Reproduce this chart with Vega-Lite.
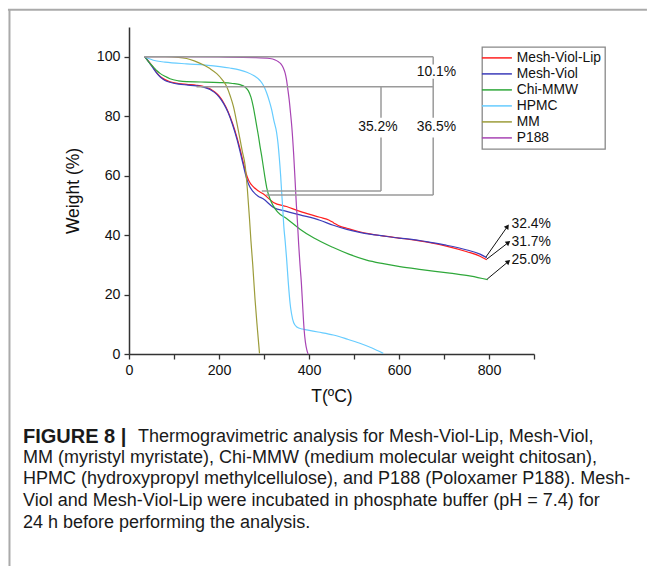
{
  "$schema": "https://vega.github.io/schema/vega-lite/v6.json",
  "width": 405,
  "height": 327,
  "autosize": {"type": "none"},
  "padding": {"left": 129, "top": 27, "right": 113, "bottom": 212},
  "background": "white",
  "config": {
    "view": {"stroke": null},
    "font": "Liberation Sans",
    "axis": {
      "labelFont": "Liberation Sans", "labelFontSize": 14.2, "labelColor": "#111",
      "titleFont": "Liberation Sans", "titleFontSize": 17.5, "titleFontWeight": "normal", "titleColor": "#111",
      "domainColor": "#333", "domainWidth": 1.5, "tickColor": "#333", "tickWidth": 1.3, "tickSize": 5,
      "grid": false, "labelPadding": 4
    },
    "legend": {
      "strokeColor": "#888", "strokeWidth": 1.3, "fillColor": "white", "padding": 4,
      "labelFont": "Liberation Sans", "labelFontSize": 13.8, "labelColor": "#111",
      "symbolType": "M-3,0H3", "symbolSize": 100, "symbolStrokeWidth": 1.5,
      "symbolOffset": 4, "labelOffset": 13, "rowPadding": 1
    }
  },
  "datasets": {
    "frame": [
      {"T1": -269, "W1": 115.8, "T2": 1151, "W2": 115.8},
      {"T1": -265.6, "W1": 115.8, "T2": -265.6, "W2": -71.5}
    ],
    "ann": [
      {"T1": 34, "W1": 100, "T2": 676, "W2": 100},
      {"T1": 676, "W1": 100, "T2": 676, "W2": 97.4},
      {"T1": 676, "W1": 92.6, "T2": 676, "W2": 79.5},
      {"T1": 676, "W1": 72.8, "T2": 676, "W2": 53.5},
      {"T1": 150, "W1": 89.9, "T2": 676, "W2": 89.9},
      {"T1": 560, "W1": 89.9, "T2": 560, "W2": 79.5},
      {"T1": 560, "W1": 72.8, "T2": 560, "W2": 54.8},
      {"T1": 295, "W1": 54.8, "T2": 560, "W2": 54.8},
      {"T1": 305, "W1": 53.5, "T2": 676, "W2": 53.5}
    ],
    "annText": [
      {"T": 683, "W": 95.0, "text": "10.1%"},
      {"T": 553, "W": 76.3, "text": "35.2%"},
      {"T": 683, "W": 76.3, "text": "36.5%"}
    ],
    "arrows": [
      {"T1": 793, "W1": 32.6, "T2": 841, "W2": 42.9, "label": "32.4%"},
      {"T1": 795, "W1": 31.9, "T2": 843, "W2": 37.5, "label": "31.7%"},
      {"T1": 796, "W1": 25.2, "T2": 843, "W2": 31.1, "label": "25.0%"}
    ],
    "arrowText": [
      {"T": 850, "W": 43.8, "text": "32.4%"},
      {"T": 850, "W": 37.8, "text": "31.7%"},
      {"T": 850, "W": 31.6, "text": "25.0%"}
    ],
    "captionBold": [
      {"T": -235.6, "W": -27.9, "text": "FIGURE 8 |"}
    ],
    "caption": [
      {"T": 20, "W": -27.9, "text": "Thermogravimetric analysis for Mesh-Viol-Lip, Mesh-Viol,"},
      {"T": -235.6, "W": -35.1, "text": "MM (myristyl myristate), Chi-MMW (medium molecular weight chitosan),"},
      {"T": -235.6, "W": -42.2, "text": "HPMC (hydroxypropyl methylcellulose), and P188 (Poloxamer P188). Mesh-"},
      {"T": -235.6, "W": -49.5, "text": "Viol and Mesh-Viol-Lip were incubated in phosphate buffer (pH = 7.4) for"},
      {"T": -235.6, "W": -56.7, "text": "24 h before performing the analysis."}
    ],
    "curves": [
      {"series": "Mesh-Viol-Lip", "T": 35, "W": 100}, {"series": "Mesh-Viol-Lip", "T": 45, "W": 98.2}, {"series": "Mesh-Viol-Lip", "T": 54, "W": 96.3}, {"series": "Mesh-Viol-Lip", "T": 62, "W": 94.6}, {"series": "Mesh-Viol-Lip", "T": 70, "W": 93.3}, {"series": "Mesh-Viol-Lip", "T": 80, "W": 92.3}, {"series": "Mesh-Viol-Lip", "T": 91, "W": 91.6}, {"series": "Mesh-Viol-Lip", "T": 110, "W": 91.0}, {"series": "Mesh-Viol-Lip", "T": 128, "W": 90.7}, {"series": "Mesh-Viol-Lip", "T": 150, "W": 90.4}, {"series": "Mesh-Viol-Lip", "T": 165, "W": 90.0}, {"series": "Mesh-Viol-Lip", "T": 180, "W": 89.2}, {"series": "Mesh-Viol-Lip", "T": 190, "W": 88.2}, {"series": "Mesh-Viol-Lip", "T": 200, "W": 86.8}, {"series": "Mesh-Viol-Lip", "T": 210, "W": 84.6}, {"series": "Mesh-Viol-Lip", "T": 220, "W": 81.6}, {"series": "Mesh-Viol-Lip", "T": 230, "W": 77.6}, {"series": "Mesh-Viol-Lip", "T": 240, "W": 72.8}, {"series": "Mesh-Viol-Lip", "T": 247, "W": 68.8}, {"series": "Mesh-Viol-Lip", "T": 254, "W": 64.4}, {"series": "Mesh-Viol-Lip", "T": 260, "W": 60.8}, {"series": "Mesh-Viol-Lip", "T": 266, "W": 58.4}, {"series": "Mesh-Viol-Lip", "T": 276, "W": 56.3}, {"series": "Mesh-Viol-Lip", "T": 287, "W": 54.9}, {"series": "Mesh-Viol-Lip", "T": 298, "W": 53.9}, {"series": "Mesh-Viol-Lip", "T": 321, "W": 51.0}, {"series": "Mesh-Viol-Lip", "T": 350, "W": 49.6}, {"series": "Mesh-Viol-Lip", "T": 380, "W": 48.0}, {"series": "Mesh-Viol-Lip", "T": 424, "W": 46.0}, {"series": "Mesh-Viol-Lip", "T": 445, "W": 45.0}, {"series": "Mesh-Viol-Lip", "T": 455, "W": 44.1}, {"series": "Mesh-Viol-Lip", "T": 468, "W": 43.0}, {"series": "Mesh-Viol-Lip", "T": 484, "W": 42.3}, {"series": "Mesh-Viol-Lip", "T": 510, "W": 41.2}, {"series": "Mesh-Viol-Lip", "T": 535, "W": 40.4}, {"series": "Mesh-Viol-Lip", "T": 560, "W": 39.8}, {"series": "Mesh-Viol-Lip", "T": 600, "W": 39.0}, {"series": "Mesh-Viol-Lip", "T": 632, "W": 38.4}, {"series": "Mesh-Viol-Lip", "T": 660, "W": 37.7}, {"series": "Mesh-Viol-Lip", "T": 705, "W": 36.3}, {"series": "Mesh-Viol-Lip", "T": 751, "W": 34.4}, {"series": "Mesh-Viol-Lip", "T": 780, "W": 32.9}, {"series": "Mesh-Viol-Lip", "T": 795, "W": 31.7},

      {"series": "Mesh-Viol", "T": 35, "W": 100}, {"series": "Mesh-Viol", "T": 45, "W": 98.0}, {"series": "Mesh-Viol", "T": 54, "W": 96.1}, {"series": "Mesh-Viol", "T": 62, "W": 94.4}, {"series": "Mesh-Viol", "T": 70, "W": 93.1}, {"series": "Mesh-Viol", "T": 80, "W": 92.0}, {"series": "Mesh-Viol", "T": 91, "W": 91.4}, {"series": "Mesh-Viol", "T": 110, "W": 90.8}, {"series": "Mesh-Viol", "T": 128, "W": 90.5}, {"series": "Mesh-Viol", "T": 150, "W": 90.2}, {"series": "Mesh-Viol", "T": 165, "W": 89.8}, {"series": "Mesh-Viol", "T": 180, "W": 89.0}, {"series": "Mesh-Viol", "T": 190, "W": 88.0}, {"series": "Mesh-Viol", "T": 200, "W": 86.5}, {"series": "Mesh-Viol", "T": 210, "W": 84.3}, {"series": "Mesh-Viol", "T": 220, "W": 81.3}, {"series": "Mesh-Viol", "T": 230, "W": 77.2}, {"series": "Mesh-Viol", "T": 240, "W": 72.2}, {"series": "Mesh-Viol", "T": 247, "W": 68.0}, {"series": "Mesh-Viol", "T": 254, "W": 63.5}, {"series": "Mesh-Viol", "T": 260, "W": 59.8}, {"series": "Mesh-Viol", "T": 266, "W": 57.0}, {"series": "Mesh-Viol", "T": 276, "W": 54.6}, {"series": "Mesh-Viol", "T": 287, "W": 53.1}, {"series": "Mesh-Viol", "T": 298, "W": 52.2}, {"series": "Mesh-Viol", "T": 321, "W": 49.3}, {"series": "Mesh-Viol", "T": 350, "W": 48.0}, {"series": "Mesh-Viol", "T": 380, "W": 46.8}, {"series": "Mesh-Viol", "T": 424, "W": 45.0}, {"series": "Mesh-Viol", "T": 454, "W": 43.3}, {"series": "Mesh-Viol", "T": 484, "W": 41.9}, {"series": "Mesh-Viol", "T": 510, "W": 41.0}, {"series": "Mesh-Viol", "T": 535, "W": 40.3}, {"series": "Mesh-Viol", "T": 560, "W": 39.8}, {"series": "Mesh-Viol", "T": 600, "W": 39.0}, {"series": "Mesh-Viol", "T": 632, "W": 38.5}, {"series": "Mesh-Viol", "T": 660, "W": 37.8}, {"series": "Mesh-Viol", "T": 705, "W": 36.6}, {"series": "Mesh-Viol", "T": 751, "W": 35.0}, {"series": "Mesh-Viol", "T": 780, "W": 33.6}, {"series": "Mesh-Viol", "T": 795, "W": 32.4},

      {"series": "Chi-MMW", "T": 35, "W": 100}, {"series": "Chi-MMW", "T": 45, "W": 98.0}, {"series": "Chi-MMW", "T": 54, "W": 96.6}, {"series": "Chi-MMW", "T": 62, "W": 95.3}, {"series": "Chi-MMW", "T": 69, "W": 94.4}, {"series": "Chi-MMW", "T": 80, "W": 93.4}, {"series": "Chi-MMW", "T": 91, "W": 92.6}, {"series": "Chi-MMW", "T": 110, "W": 91.9}, {"series": "Chi-MMW", "T": 128, "W": 91.6}, {"series": "Chi-MMW", "T": 160, "W": 91.5}, {"series": "Chi-MMW", "T": 202, "W": 91.3}, {"series": "Chi-MMW", "T": 230, "W": 91.0}, {"series": "Chi-MMW", "T": 247, "W": 90.6}, {"series": "Chi-MMW", "T": 258, "W": 89.8}, {"series": "Chi-MMW", "T": 265, "W": 88.6}, {"series": "Chi-MMW", "T": 271, "W": 86.4}, {"series": "Chi-MMW", "T": 276, "W": 83.3}, {"series": "Chi-MMW", "T": 280, "W": 80.0}, {"series": "Chi-MMW", "T": 284, "W": 76.5}, {"series": "Chi-MMW", "T": 288, "W": 73.0}, {"series": "Chi-MMW", "T": 291, "W": 70.0}, {"series": "Chi-MMW", "T": 295, "W": 66.5}, {"series": "Chi-MMW", "T": 298, "W": 63.5}, {"series": "Chi-MMW", "T": 302, "W": 59.5}, {"series": "Chi-MMW", "T": 306, "W": 56.0}, {"series": "Chi-MMW", "T": 313, "W": 52.3}, {"series": "Chi-MMW", "T": 320, "W": 50.0}, {"series": "Chi-MMW", "T": 330, "W": 47.8}, {"series": "Chi-MMW", "T": 350, "W": 45.6}, {"series": "Chi-MMW", "T": 380, "W": 42.0}, {"series": "Chi-MMW", "T": 411, "W": 39.0}, {"series": "Chi-MMW", "T": 454, "W": 35.8}, {"series": "Chi-MMW", "T": 490, "W": 33.5}, {"series": "Chi-MMW", "T": 528, "W": 31.6}, {"series": "Chi-MMW", "T": 565, "W": 30.4}, {"series": "Chi-MMW", "T": 602, "W": 29.4}, {"series": "Chi-MMW", "T": 650, "W": 28.4}, {"series": "Chi-MMW", "T": 713, "W": 27.2}, {"series": "Chi-MMW", "T": 760, "W": 26.2}, {"series": "Chi-MMW", "T": 797, "W": 25.0},

      {"series": "HPMC", "T": 35, "W": 100}, {"series": "HPMC", "T": 45, "W": 99.3}, {"series": "HPMC", "T": 54, "W": 98.8}, {"series": "HPMC", "T": 80, "W": 98.2}, {"series": "HPMC", "T": 128, "W": 97.6}, {"series": "HPMC", "T": 170, "W": 97.2}, {"series": "HPMC", "T": 202, "W": 96.7}, {"series": "HPMC", "T": 224, "W": 96.2}, {"series": "HPMC", "T": 245, "W": 95.6}, {"series": "HPMC", "T": 262, "W": 94.8}, {"series": "HPMC", "T": 278, "W": 93.6}, {"series": "HPMC", "T": 291, "W": 92.0}, {"series": "HPMC", "T": 300, "W": 90.0}, {"series": "HPMC", "T": 306, "W": 87.8}, {"series": "HPMC", "T": 312, "W": 85.0}, {"series": "HPMC", "T": 317, "W": 82.2}, {"series": "HPMC", "T": 322, "W": 78.5}, {"series": "HPMC", "T": 328, "W": 74.5}, {"series": "HPMC", "T": 331, "W": 71.0}, {"series": "HPMC", "T": 334, "W": 66.0}, {"series": "HPMC", "T": 337, "W": 60.0}, {"series": "HPMC", "T": 339, "W": 55.0}, {"series": "HPMC", "T": 342, "W": 48.0}, {"series": "HPMC", "T": 344, "W": 43.0}, {"series": "HPMC", "T": 347, "W": 38.0}, {"series": "HPMC", "T": 350, "W": 32.5}, {"series": "HPMC", "T": 354, "W": 24.0}, {"series": "HPMC", "T": 358, "W": 17.0}, {"series": "HPMC", "T": 361, "W": 13.7}, {"series": "HPMC", "T": 366, "W": 10.5}, {"series": "HPMC", "T": 373, "W": 9.1}, {"series": "HPMC", "T": 385, "W": 8.4}, {"series": "HPMC", "T": 395, "W": 8.1}, {"series": "HPMC", "T": 420, "W": 7.4}, {"series": "HPMC", "T": 454, "W": 6.4}, {"series": "HPMC", "T": 485, "W": 5.0}, {"series": "HPMC", "T": 513, "W": 3.6}, {"series": "HPMC", "T": 540, "W": 2.0}, {"series": "HPMC", "T": 565, "W": 0.2},

      {"series": "MM", "T": 35, "W": 100}, {"series": "MM", "T": 80, "W": 100}, {"series": "MM", "T": 110, "W": 99.8}, {"series": "MM", "T": 128, "W": 99.4}, {"series": "MM", "T": 145, "W": 98.6}, {"series": "MM", "T": 165, "W": 97.3}, {"series": "MM", "T": 180, "W": 96.0}, {"series": "MM", "T": 195, "W": 94.3}, {"series": "MM", "T": 207, "W": 92.3}, {"series": "MM", "T": 217, "W": 90.0}, {"series": "MM", "T": 225, "W": 86.8}, {"series": "MM", "T": 232, "W": 83.3}, {"series": "MM", "T": 240, "W": 77.5}, {"series": "MM", "T": 247, "W": 72.0}, {"series": "MM", "T": 252, "W": 68.0}, {"series": "MM", "T": 258, "W": 63.5}, {"series": "MM", "T": 263, "W": 55.5}, {"series": "MM", "T": 268, "W": 45.0}, {"series": "MM", "T": 271, "W": 38.0}, {"series": "MM", "T": 275, "W": 30.0}, {"series": "MM", "T": 280, "W": 18.5}, {"series": "MM", "T": 285, "W": 9.0}, {"series": "MM", "T": 290, "W": 0.2},

      {"series": "P188", "T": 35, "W": 100}, {"series": "P188", "T": 100, "W": 100}, {"series": "P188", "T": 200, "W": 99.9}, {"series": "P188", "T": 280, "W": 99.7}, {"series": "P188", "T": 313, "W": 99.4}, {"series": "P188", "T": 325, "W": 98.9}, {"series": "P188", "T": 332, "W": 98.3}, {"series": "P188", "T": 338, "W": 97.5}, {"series": "P188", "T": 343, "W": 96.2}, {"series": "P188", "T": 347, "W": 94.5}, {"series": "P188", "T": 350, "W": 92.3}, {"series": "P188", "T": 353, "W": 89.0}, {"series": "P188", "T": 356, "W": 85.5}, {"series": "P188", "T": 359, "W": 81.0}, {"series": "P188", "T": 362, "W": 76.0}, {"series": "P188", "T": 366, "W": 67.0}, {"series": "P188", "T": 369, "W": 58.6}, {"series": "P188", "T": 372, "W": 50.0}, {"series": "P188", "T": 374.5, "W": 44.0}, {"series": "P188", "T": 377, "W": 37.0}, {"series": "P188", "T": 380, "W": 30.0}, {"series": "P188", "T": 383, "W": 24.0}, {"series": "P188", "T": 386, "W": 16.0}, {"series": "P188", "T": 389, "W": 8.5}, {"series": "P188", "T": 392, "W": 4.0}, {"series": "P188", "T": 395, "W": 1.5}, {"series": "P188", "T": 398, "W": 0}
    ]
  },
  "layer": [
    {
      "data": {"name": "curves"},
      "mark": {"type": "line", "strokeWidth": 1.2, "interpolate": "monotone"},
      "encoding": {
        "x": {
          "field": "T", "type": "quantitative",
          "scale": {"domain": [0, 900], "nice": false, "zero": false},
          "axis": {"title": "T(ºC)", "values": [0, 100, 200, 300, 400, 500, 600, 700, 800, 900], "labelExpr": "datum.value % 200 == 0 && datum.value <= 800 ? datum.label : ''", "titlePadding": 10, "labelFlush": false}
        },
        "y": {
          "field": "W", "type": "quantitative",
          "scale": {"domain": [0, 110], "nice": false, "zero": false},
          "axis": {"title": "Weight (%)", "values": [0, 10, 20, 30, 40, 50, 60, 70, 80, 90, 100], "labelExpr": "datum.value % 20 == 0 ? datum.label : ''", "titlePadding": 14, "labelFlush": false}
        },
        "color": {
          "field": "series", "type": "nominal",
          "scale": {
            "domain": ["Mesh-Viol-Lip", "Mesh-Viol", "Chi-MMW", "HPMC", "MM", "P188"],
            "range": ["#ff1f1f", "#3c3cba", "#2fa83a", "#66ccff", "#9c9c3a", "#a844b4"]
          },
          "legend": {"title": null, "orient": "none", "legendX": 353, "legendY": 20}
        }
      }
    },
    {
      "data": {"name": "frame"},
      "mark": {"type": "rule", "color": "#aaaaaa", "strokeWidth": 2},
      "encoding": {
        "x": {"field": "T1", "type": "quantitative"},
        "x2": {"field": "T2"},
        "y": {"field": "W1", "type": "quantitative"},
        "y2": {"field": "W2"}
      }
    },
    {
      "data": {"name": "ann"},
      "mark": {"type": "rule", "color": "#9a9a9a", "strokeWidth": 1.5},
      "encoding": {
        "x": {"field": "T1", "type": "quantitative"},
        "x2": {"field": "T2"},
        "y": {"field": "W1", "type": "quantitative"},
        "y2": {"field": "W2"}
      }
    },
    {
      "data": {"name": "annText"},
      "mark": {"type": "text", "fontSize": 13.9, "color": "#111", "align": "center", "baseline": "middle"},
      "encoding": {
        "x": {"field": "T", "type": "quantitative"},
        "y": {"field": "W", "type": "quantitative"},
        "text": {"field": "text"}
      }
    },
    {
      "data": {"name": "arrows"},
      "mark": {"type": "rule", "color": "#111", "strokeWidth": 1},
      "encoding": {
        "x": {"field": "T1", "type": "quantitative"},
        "x2": {"field": "T2"},
        "y": {"field": "W1", "type": "quantitative"},
        "y2": {"field": "W2"}
      }
    },
    {
      "data": {"name": "arrows"},
      "transform": [{"filter": "datum.label == '32.4%'"}],
      "mark": {"type": "point", "shape": "triangle-up", "filled": true, "color": "#111", "size": 30, "angle": 35, "opacity": 1},
      "encoding": {
        "x": {"field": "T2", "type": "quantitative"},
        "y": {"field": "W2", "type": "quantitative"}
      }
    },
    {
      "data": {"name": "arrows"},
      "transform": [{"filter": "datum.label == '31.7%'"}],
      "mark": {"type": "point", "shape": "triangle-up", "filled": true, "color": "#111", "size": 30, "angle": 52, "opacity": 1},
      "encoding": {
        "x": {"field": "T2", "type": "quantitative"},
        "y": {"field": "W2", "type": "quantitative"}
      }
    },
    {
      "data": {"name": "arrows"},
      "transform": [{"filter": "datum.label == '25.0%'"}],
      "mark": {"type": "point", "shape": "triangle-up", "filled": true, "color": "#111", "size": 30, "angle": 50, "opacity": 1},
      "encoding": {
        "x": {"field": "T2", "type": "quantitative"},
        "y": {"field": "W2", "type": "quantitative"}
      }
    },
    {
      "data": {"name": "arrowText"},
      "mark": {"type": "text", "fontSize": 13.9, "color": "#111", "align": "left", "baseline": "middle"},
      "encoding": {
        "x": {"field": "T", "type": "quantitative"},
        "y": {"field": "W", "type": "quantitative"},
        "text": {"field": "text"}
      }
    },
    {
      "data": {"name": "captionBold"},
      "mark": {"type": "text", "fontSize": 20, "fontWeight": "bold", "color": "#1a1a1a", "align": "left", "baseline": "middle"},
      "encoding": {
        "x": {"field": "T", "type": "quantitative"},
        "y": {"field": "W", "type": "quantitative"},
        "text": {"field": "text"}
      }
    },
    {
      "data": {"name": "caption"},
      "mark": {"type": "text", "fontSize": 18, "color": "#1a1a1a", "align": "left", "baseline": "middle"},
      "encoding": {
        "x": {"field": "T", "type": "quantitative"},
        "y": {"field": "W", "type": "quantitative"},
        "text": {"field": "text"}
      }
    }
  ]
}
